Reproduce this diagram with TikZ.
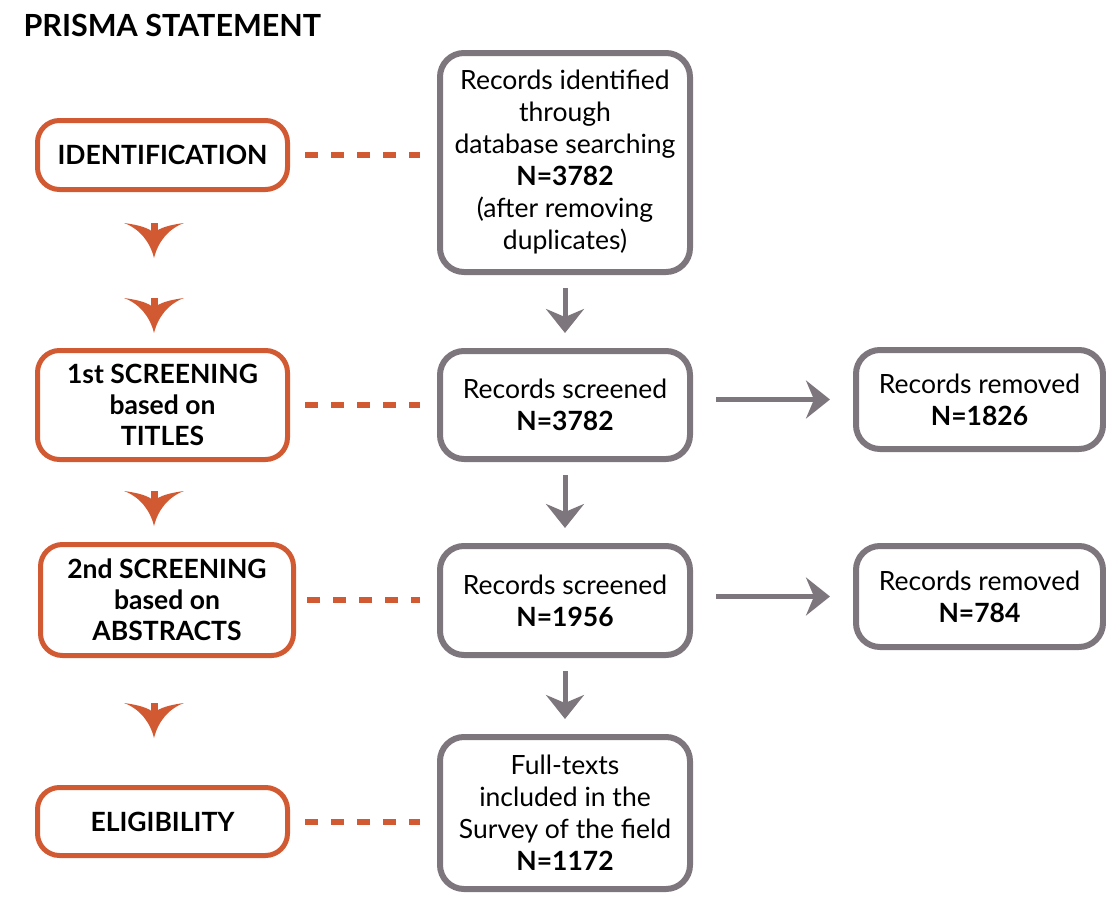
\documentclass[tikz,border=0pt]{standalone}
\usepackage{fontspec}
\setmainfont{Lato}
\usetikzlibrary{arrows.meta}

\definecolor{prismaorange}{RGB}{210,90,50}
\definecolor{prismagrey}{RGB}{125,118,124}

\tikzset{
	stagebox/.style={draw=prismaorange, line width=5pt, rounded corners=22pt, align=center, inner sep=0pt, font=\fontsize{26.5}{31}\selectfont\bfseries},
	recbox/.style={draw=prismagrey, line width=6pt, rounded corners=24pt, align=center, inner sep=0pt, font=\fontsize{26.5}{32}\selectfont},
	flow/.style={draw=prismagrey, line width=5pt, -{Stealth[length=24pt,width=38pt,inset=8pt]}},
	link/.style={draw=prismaorange, line width=6pt, dash pattern=on 13pt off 13pt, shorten <=15pt, shorten >=17pt},
}

\begin{document}
\begin{tikzpicture}[x=1pt, y=-1pt]
	\useasboundingbox (0,0) rectangle (1106,897);
	
	\node[anchor=west, font=\fontsize{30.5}{32}\selectfont\bfseries] (title) at (20,25) {PRISMA STATEMENT};
	
	% stages
	\node[stagebox, minimum width=250pt, minimum height=69pt] (ident) at (162.5,155) {IDENTIFICATION};
	\node[stagebox, minimum width=250pt, minimum height=109pt] (screenA) at (162.5,405) {1st SCREENING\\based on\\TITLES};
	\node[stagebox, minimum width=253pt, minimum height=111pt] (screenB) at (167,600) {2nd SCREENING\\based on\\ABSTRACTS};
	\node[stagebox, minimum width=250pt, minimum height=68pt] (elig) at (162.5,821.5) {ELIGIBILITY};
	
	% records
	\node[recbox, minimum width=250pt, minimum height=219pt] (recId) at (565,162.5) {Records identified\\through\\database searching\\\textbf{N=3782}\\(after removing\\duplicates)};
	\node[recbox, minimum width=250pt, minimum height=108pt] (recScrA) at (565,405) {Records screened\\\textbf{N=3782}};
	\node[recbox, minimum width=250pt, minimum height=109pt] (recScrB) at (565,600.5) {Records screened\\\textbf{N=1956}};
	\node[recbox, minimum width=250pt, minimum height=152pt] (fullText) at (565,813) {Full-texts\\included in the\\Survey of the field\\\textbf{N=1172}};
	\node[recbox, minimum width=247pt, minimum height=99pt] (remA) at (979.5,399.5) {Records removed\\\textbf{N=1826}};
	\node[recbox, minimum width=247pt, minimum height=101pt] (remB) at (979.5,596.5) {Records removed\\\textbf{N=784}};
	
	% dashed links
	\draw[link] (ident.east) -- (ident.east -| recId.west);
	\draw[link] (screenA.east) -- (screenA.east -| recScrA.west);
	\draw[link, shorten <=11pt] (screenB.east) -- (screenB.east -| recScrB.west);
	\draw[link] (elig.east) -- (elig.east -| fullText.west);
	
	% flow arrows
	\draw[flow, shorten <=13pt, shorten >=15pt] (recId.south) -- (recScrA.north);
	\draw[flow, shorten <=13pt, shorten >=15pt] (recScrA.south) -- (recScrB.north);
	\draw[flow, shorten <=13pt, shorten >=15pt] (recScrB.south) -- (fullText.north);
	\draw[flow, shorten <=23pt, shorten >=23pt] (recScrA.east |- remA.west) -- (remA.west);
	\draw[flow, shorten <=23pt, shorten >=23pt] (recScrB.east |- remB.west) -- (remB.west);
	
	% stage chevrons
	\foreach \y in {222, 297, 490, 702}{
		\fill[prismaorange, shift={(154,\y)}] (-30,1) .. controls (-14,7) and (-4,20) .. (0,36) .. controls (4,20) and (14,7) .. (30,1) .. controls (15,3) and (5,6) .. (0,11) .. controls (-5,6) and (-15,3) .. (-30,1) -- cycle;
		\fill[prismaorange, shift={(154,\y)}] (-3.5,1) rectangle (3.5,11);
	}
	
\end{tikzpicture}
\end{document}
